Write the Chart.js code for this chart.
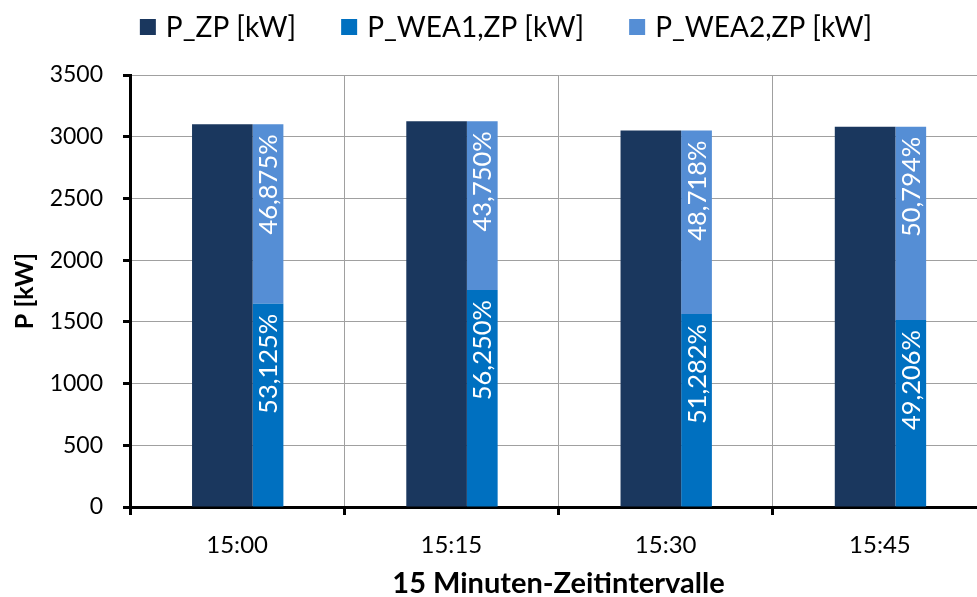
<!DOCTYPE html>
<html>
<head>
<meta charset="utf-8">
<script src="https://cdn.jsdelivr.net/npm/chart.js@4/dist/chart.umd.min.js"></script>
<style>
  html, body { margin: 0; padding: 0; background: #fff; overflow: hidden; width: 977px; height: 597px; }
  canvas { display: block; }
</style>
</head>
<body>
<canvas id="c" width="1012" height="597"></canvas>
<script>
// 15-minute intervals
const intervals = ['15:00', '15:15', '15:30', '15:45'];
// Power values in kW
const pZP   = [3100, 3125, 3050, 3080];
const pWEA1 = [1646.875, 1757.8, 1564.1, 1515.55];
const pWEA2 = [1453.125, 1367.2, 1485.9, 1564.45];
const yTicks = [0, 500, 1000, 1500, 2000, 2500, 3000, 3500];

const FONT = 'Lato, "Liberation Sans", sans-serif';

// Share of each wind turbine within its stacked column, German number format
function shareLabel(values, i) {
  const total = pWEA1[i] + pWEA2[i];
  return (values[i] / total * 100).toFixed(3).replace('.', ',') + '%';
}

// White, upward-reading share labels placed at the top end of each WEA segment
const shareLabels = {
  id: 'shareLabels',
  afterDatasetsDraw(chart) {
    const ctx = chart.ctx;
    [1, 2].forEach(di => {
      const meta = chart.getDatasetMeta(di);
      const src = di === 1 ? pWEA1 : pWEA2;
      meta.data.forEach((bar, i) => {
        ctx.save();
        ctx.translate(bar.x, bar.y + 10);
        ctx.rotate(-Math.PI / 2);
        ctx.font = '25.5px ' + FONT;
        ctx.fillStyle = '#fff';
        ctx.textAlign = 'right';
        ctx.textBaseline = 'middle';
        ctx.fillText(shareLabel(src, i), 0, 1);
        ctx.restore();
      });
    });
  }
};

// Legend row above the plot: square swatch + series name
const topLegend = {
  id: 'topLegend',
  afterDraw(chart) {
    const ctx = chart.ctx;
    const box = 16, gapText = 10, gapItem = 45, centerX = 506, midY = 27;
    ctx.save();
    ctx.font = '28px ' + FONT;
    ctx.textBaseline = 'middle';
    ctx.textAlign = 'left';
    const items = chart.data.datasets.map(ds => ({
      text: ds.label, color: ds.backgroundColor, w: ctx.measureText(ds.label).width
    }));
    const total = items.reduce((s, it) => s + box + gapText + it.w, 0) + gapItem * (items.length - 1);
    let x = centerX - total / 2;
    items.forEach(it => {
      ctx.fillStyle = it.color;
      ctx.fillRect(x, midY - box / 2, box, box);
      ctx.fillStyle = '#000';
      ctx.fillText(it.text, x + box + gapText, midY + 1);
      x += box + gapText + it.w + gapItem;
    });
    ctx.restore();
  }
};

new Chart(document.getElementById('c'), {
  type: 'bar',
  data: {
    labels: intervals,
    datasets: [
      { label: 'P_ZP [kW]', data: pZP, stack: 'zp',
        backgroundColor: '#1A375E', borderWidth: 0,
        categoryPercentage: 0.276, barPercentage: 2.05 },
      { label: 'P_WEA1,ZP [kW]', data: pWEA1, stack: 'wea',
        backgroundColor: '#0070C0', borderWidth: 0,
        categoryPercentage: 0.577, barPercentage: 0.497 },
      { label: 'P_WEA2,ZP [kW]', data: pWEA2, stack: 'wea',
        backgroundColor: '#558ED5', borderWidth: 0,
        categoryPercentage: 0.577, barPercentage: 0.497 }
    ]
  },
  options: {
    responsive: false,
    animation: false,
    devicePixelRatio: 1,
    layout: { padding: { top: 75, right: 25, bottom: 0, left: 0 } },
    plugins: {
      legend: { display: false },
      tooltip: { enabled: false }
    },
    scales: {
      x: {
        offset: true,
        grid: { display: true, offset: true, color: '#A0A0A0', lineWidth: 1,
                drawTicks: true, tickLength: 8, tickColor: '#000', tickWidth: 3 },
        border: { display: true, color: '#000', width: 3 },
        ticks: { color: '#000', font: { family: FONT, size: 24 }, padding: 16 },
        title: { display: true, text: '15 Minuten-Zeitintervalle', color: '#000',
                 font: { family: FONT, size: 29, weight: 'bold' }, padding: { top: 0, bottom: -4 } },
        afterFit(s) { s.height = 90; }
      },
      y: {
        stacked: true,
        min: 0, max: 3500,
        afterBuildTicks(s) { s.ticks = yTicks.map(v => ({ value: v })); },
        grid: { color: '#A0A0A0', lineWidth: 1, drawTicks: true, tickLength: 7,
                tickColor: '#000', tickWidth: 3 },
        border: { display: true, color: '#000', width: 3 },
        ticks: { color: '#000', font: { family: FONT, size: 23 }, padding: 20,
                 callback: v => String(v) },
        title: { display: true, text: 'P [kW]', color: '#000',
                 font: { family: FONT, size: 25, weight: 'bold' }, padding: { top: 10, bottom: 0 } },
        afterFit(s) { s.width = 130; }
      }
    }
  },
  plugins: [shareLabels, topLegend]
});
</script>
</body>
</html>
